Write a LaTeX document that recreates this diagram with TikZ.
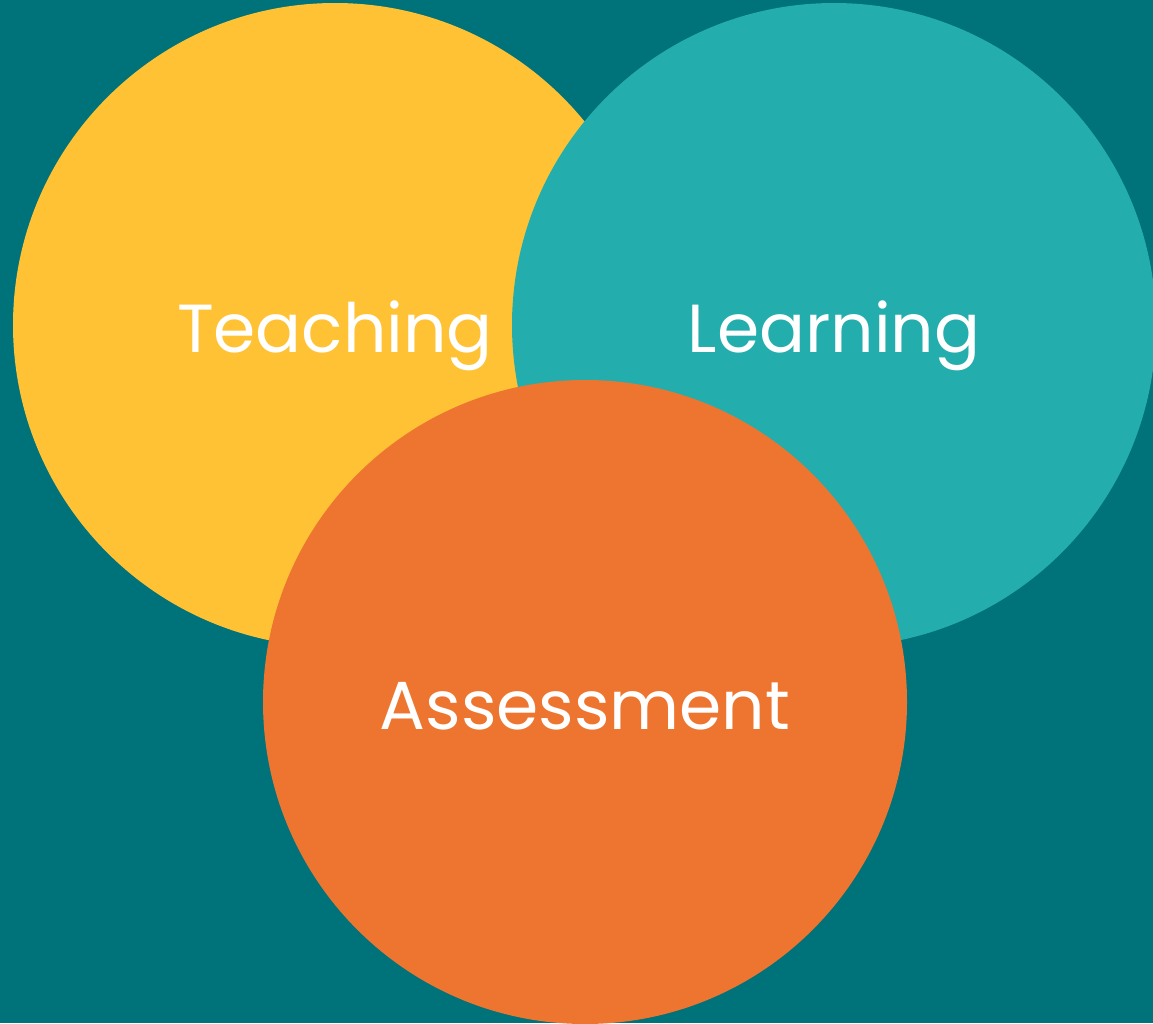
\documentclass[tikz,border=0pt]{standalone}
\usepackage{fontspec}
\setmainfont{Poppins}
\usepackage{xcolor}

\definecolor{bgteal}{HTML}{00727A}
\definecolor{circyellow}{HTML}{FFC235}
\definecolor{circteal}{HTML}{23ADAD}
\definecolor{circorange}{HTML}{EE7530}

\tikzset{
  blob/.style={circle, inner sep=0pt, minimum size=644pt, text=white,
    text height=54pt, text depth=0pt,
    font=\fontsize{68}{80}\selectfont}
}

\begin{document}
\begin{tikzpicture}[x=1pt, y=-1pt]
            \fill[bgteal] (0,0) rectangle (1153,1023);
            \useasboundingbox (0,0) rectangle (1153,1023);
            \node[blob, fill=circyellow] (teach) at (335,325) {Teaching};
            \node[blob, fill=circteal] (learn) at (834,325) {Learning};
            \node[blob, fill=circorange] (assess) at (585,702) {Assessment};
        \end{tikzpicture}
\end{document}
